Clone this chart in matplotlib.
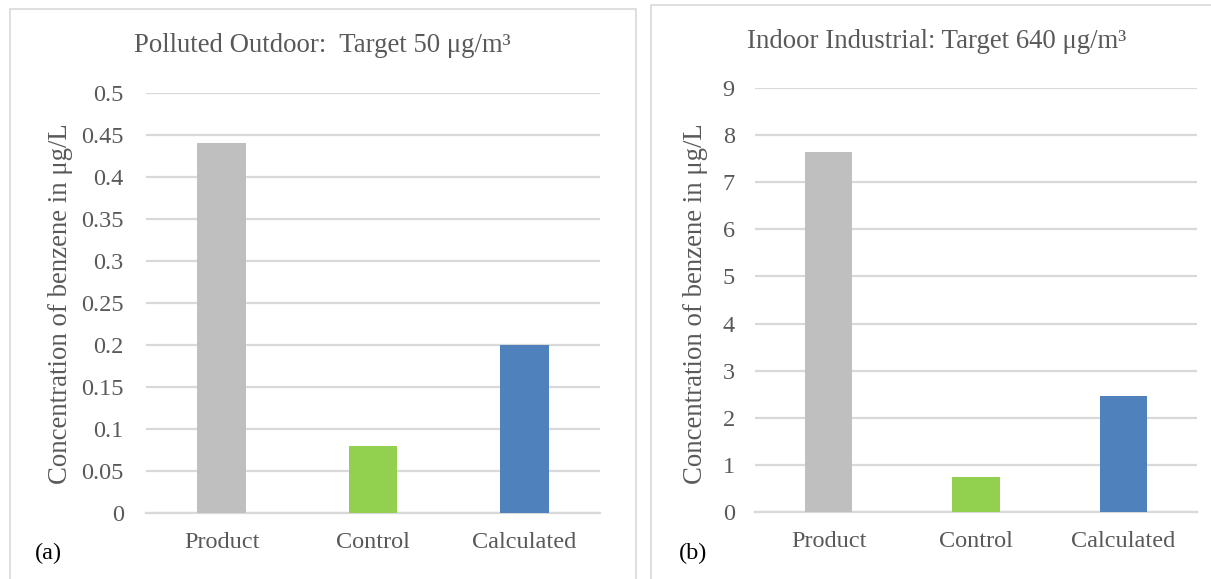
import matplotlib.pyplot as plt
from matplotlib.patches import Rectangle

plt.rcParams.update({
    "font.family": ["Liberation Serif", "DejaVu Serif"],
    "font.size": 17,
    "text.color": "#595959",
    "xtick.color": "#595959",
    "ytick.color": "#595959",
})

categories = ["Product", "Control", "Calculated"]
outdoor_values = [0.44, 0.08, 0.20]
industrial_values = [7.65, 0.75, 2.46]
bar_colors = ["#bfbfbf", "#92d050", "#4f81bd"]

W, H = 1211, 579
fig = plt.figure(figsize=(W / 100, H / 100), dpi=100)

# panel frames
fig.patches.append(Rectangle((10 / W, -0.05), 626 / W, 1.05 - 9 / H, transform=fig.transFigure,
                             fill=False, edgecolor="#d9d9d9", linewidth=1.2))
fig.patches.append(Rectangle((651 / W, -0.05), 1.0, 1.05 - 5 / H, transform=fig.transFigure,
                             fill=False, edgecolor="#d9d9d9", linewidth=1.2))


def draw_panel(rect, values, ymax, step, fmt, title, title_xy, ylabel_x, tag_xy, tag, ypad):
    ax = fig.add_axes(rect)
    x = range(len(categories))
    ax.bar(x, values, width=0.32, color=bar_colors, zorder=3)
    ax.set_xlim(-0.5, len(categories) - 0.5)
    ax.set_ylim(0, ymax)
    ticks = [i * step for i in range(int(round(ymax / step)) + 1)]
    ax.set_yticks(ticks)
    ax.set_yticklabels([fmt(t) for t in ticks])
    ax.set_xticks(list(x))
    ax.set_xticklabels(categories)
    ax.grid(axis="y", color="#d9d9d9", linewidth=1.6, zorder=0)
    for s in ["top", "right", "left"]:
        ax.spines[s].set_visible(False)
    ax.spines["bottom"].set_color("#d9d9d9")
    ax.spines["bottom"].set_linewidth(1.6)
    ax.tick_params(axis="both", length=0, labelsize=17.5)
    ax.tick_params(axis="y", pad=ypad)
    ax.tick_params(axis="x", pad=14)
    fig.text(title_xy[0] / W, 1 - title_xy[1] / H, title, ha="center", va="center", fontsize=19.3)
    fig.text(ylabel_x / W, 1 - 304 / H, "Concentration of benzene in μg/L", rotation=90,
             ha="center", va="center", fontsize=19.3)
    fig.text(tag_xy[0] / W, 1 - tag_xy[1] / H, tag, ha="left", va="center", fontsize=17.5, color="black")
    return ax


def fmt_outdoor(t):
    return "0" if t == 0 else f"{t:g}"


draw_panel([146 / W, 1 - 513 / H, 454 / W, 420 / H], outdoor_values, 0.5, 0.05, fmt_outdoor,
           "Polluted Outdoor:  Target 50 μg/m³", (322, 46), 61, (35, 553), "(a)", 16)
draw_panel([755 / W, 1 - 512 / H, 442 / W, 424 / H], industrial_values, 9, 1, lambda t: f"{t:g}",
           "Indoor Industrial: Target 640 μg/m³", (937, 41), 696, (679, 553), "(b)", 14.5)

fig.savefig("out.png", dpi=100)
